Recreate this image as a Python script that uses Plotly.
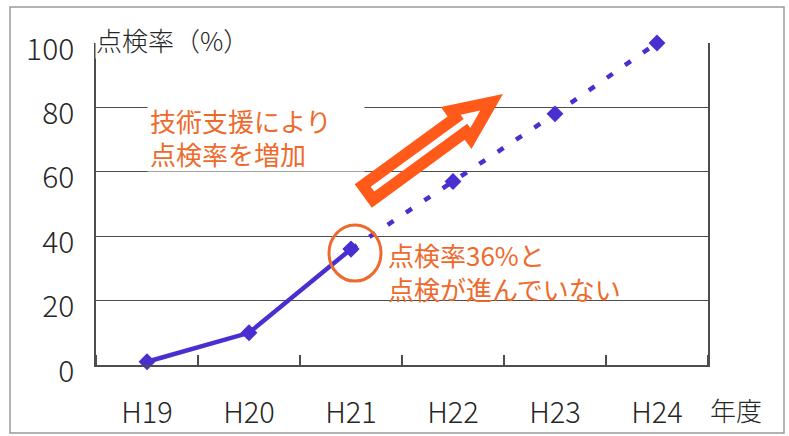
import math
import plotly.graph_objects as go

# Inspection rate by fiscal year (%)
years = ["H19", "H20", "H21", "H22", "H23", "H24"]
actual_years = ["H19", "H20", "H21"]
actual_rate = [1, 10, 36]
plan_years = ["H21", "H22", "H23", "H24"]
plan_rate = [36, 57, 78, 100]
y_ticks = [0, 20, 40, 60, 80, 100]

W, H = 789, 436
L, R, T, B = 96, 81, 43, 71
PW, PH = W - L - R, H - T - B
XR = (-0.5, len(years) - 0.5)
YR = (0, 100)

LINE = "#4A2ED0"
ORANGE = "#EE6A2C"
ARROW = "#FF5A1A"
INK = "#262626"
GRID = "#4d4d4d"
FONT = "Noto Sans CJK JP"

xi = {y: i for i, y in enumerate(years)}


def data_px(x, y):
    px = L + (x - XR[0]) / (XR[1] - XR[0]) * PW
    py = T + (YR[1] - y) / (YR[1] - YR[0]) * PH
    return px, py


def px_paper(px, py):
    return (px - L) / PW, (T + PH - py) / PH


fig = go.Figure()
fig.add_trace(go.Scatter(
    x=[xi[y] for y in actual_years], y=actual_rate, mode="lines+markers",
    line=dict(color=LINE, width=4.5),
    marker=dict(symbol="diamond", size=13, color=LINE),
    cliponaxis=False, showlegend=False, hoverinfo="skip",
))
fig.add_trace(go.Scatter(
    x=[xi[y] for y in plan_years], y=plan_rate, mode="lines+markers",
    line=dict(color=LINE, width=4.5, dash="7px,15px"),
    marker=dict(symbol="diamond", size=13, color=LINE),
    cliponaxis=False, showlegend=False, hoverinfo="skip",
))

shapes = []

# hollow block arrow pointing up-right (outline band with a see-through core)
tail = data_px(2.12, 52.5)
tip = data_px(3.49, 84.2)
dx, dy = tip[0] - tail[0], tip[1] - tail[1]
ln = math.hypot(dx, dy)
u = (dx / ln, dy / ln)
n = (-u[1], u[0])

band = 11.5
shaft_hw = 14.5
head_hw = 26.0
head_len = 58.0


def at(p, along, side):
    return (p[0] + u[0] * along + n[0] * side, p[1] + u[1] * along + n[1] * side)


def ring(tail_pt, tip_pt, s_hw, h_hw, h_len):
    base = at(tip_pt, -h_len, 0)
    return [at(tail_pt, 0, s_hw), at(base, 0, s_hw), at(base, 0, h_hw), tip_pt,
            at(base, 0, -h_hw), at(base, 0, -s_hw), at(tail_pt, 0, -s_hw)]


outer = ring(tail, tip, shaft_hw, head_hw, head_len)
half_angle = math.atan(head_hw / head_len)
tip_in = at(tip, -band / math.sin(half_angle), 0)
tail_in = at(tail, band, 0)
inner_base_hw = head_hw * (1 - band / head_len) - band / math.cos(half_angle)
inner_len = (head_len - band) - band / math.sin(half_angle)
inner = ring(tail_in, tip_in, shaft_hw - band, inner_base_hw, inner_len)[::-1]


def sub(points):
    pp = [px_paper(*p) for p in points]
    return "M " + " L ".join(f"{a:.5f},{b:.5f}" for a, b in pp) + " Z"


shapes.append(dict(type="path", path=sub(outer) + " " + sub(inner),
                   xref="paper", yref="paper", fillcolor=ARROW,
                   fillrule="evenodd", line=dict(width=0), layer="above"))

# ring around the H21 result
cx, cy = data_px(xi["H21"], actual_rate[2])
cx, cy = cx + 4, cy + 4
x0, y0 = px_paper(cx - 26, cy + 28)
x1, y1 = px_paper(cx + 26, cy - 28)
shapes.append(dict(type="circle", xref="paper", yref="paper",
                   x0=x0, y0=y0, x1=x1, y1=y1,
                   line=dict(color=ORANGE, width=3), layer="above"))

# outer frame
fx0, fy0 = px_paper(10, 433)
fx1, fy1 = px_paper(784, 7)
shapes.append(dict(type="rect", xref="paper", yref="paper",
                   x0=fx0, y0=fy0, x1=fx1, y1=fy1,
                   line=dict(color="#9a9a9a", width=1.5), layer="below"))

annotations = []
ax, ay = px_paper(95, 40)
annotations.append(dict(text="点検率（%）", x=ax, y=ay, xref="paper", yref="paper",
                        xanchor="left", yanchor="middle", showarrow=False,
                        bgcolor="white", borderpad=0,
                        font=dict(family=FONT, size=26, color=INK, weight=300)))
bx, by = px_paper(147, 137)
annotations.append(dict(text="技術支援により<br>点検率を増加", x=bx, y=by,
                        xref="paper", yref="paper", xanchor="left", yanchor="middle",
                        width=212, height=64, align="left", valign="middle",
                        showarrow=False, bgcolor="white", borderpad=2,
                        font=dict(family=FONT, size=26, color=ORANGE)))
cx2, cy2 = px_paper(386, 271)
annotations.append(dict(text="点検率36%と<br>点検が進んでいない", x=cx2, y=cy2,
                        xref="paper", yref="paper", xanchor="left", yanchor="middle",
                        align="left", showarrow=False,
                        font=dict(family=FONT, size=26, color=ORANGE)))
dx2, dy2 = px_paper(708, 409)
annotations.append(dict(text="年度", x=dx2, y=dy2, xref="paper", yref="paper",
                        xanchor="left", yanchor="middle", showarrow=False,
                        font=dict(family=FONT, size=26, color=INK, weight=300)))

fig.update_layout(
    width=W, height=H, margin=dict(l=L, r=R, t=T, b=B, autoexpand=False),
    paper_bgcolor="white", plot_bgcolor="white",
    font=dict(family=FONT, color=INK),
    shapes=shapes, annotations=annotations,
    xaxis=dict(
        range=list(XR), tickmode="array", tickvals=list(range(len(years))),
        ticktext=years, ticks="", showgrid=False, zeroline=False,
        showline=True, linecolor=GRID, linewidth=1.5, automargin=False,
        tickfont=dict(family=FONT, size=29, color=INK, weight=300),
        ticklabelstandoff=21,
        minor=dict(tick0=0.5, dtick=1, ticks="inside", ticklen=10,
                   tickwidth=1.5, tickcolor=GRID, showgrid=False),
    ),
    yaxis=dict(
        range=list(YR), tickmode="array", tickvals=y_ticks, ticks="",
        showgrid=True, gridcolor=GRID, gridwidth=1.3, zeroline=False,
        showline=True, linecolor=GRID, linewidth=1.5, mirror=True,
        automargin=False,
        tickfont=dict(family=FONT, size=30, color=INK, weight=300),
        ticklabelstandoff=14, ticklabelshift=6,
    ),
)

fig.write_html("out.html")
